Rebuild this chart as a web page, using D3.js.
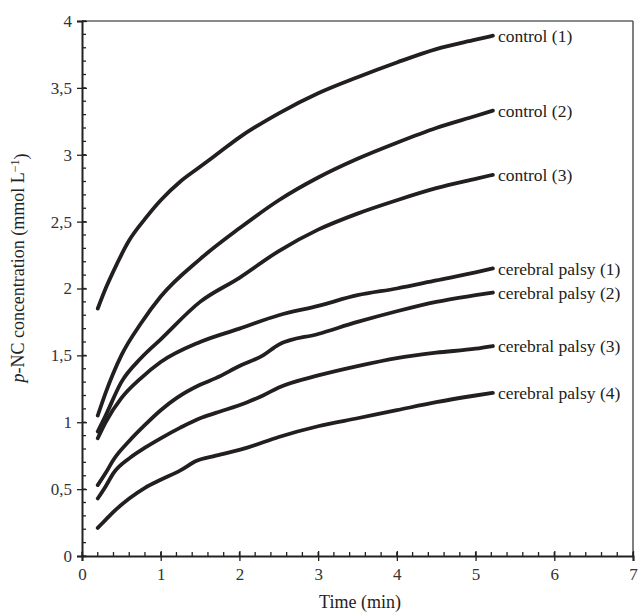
<!DOCTYPE html>
<html>
<head>
<meta charset="utf-8">
<script src="https://cdn.jsdelivr.net/npm/d3@7"></script>
<style>
  body { margin: 0; background: #fff; }
  svg { font-family: "Liberation Serif", "DejaVu Serif", serif; }
</style>
</head>
<body>
<svg id="chart" width="639" height="615"></svg>
<script>
// time points (min) and p-NC concentrations
var control1 = [[0.2,1.85],[0.3,2.0],[0.4,2.13],[0.6,2.36],[0.8,2.52],[1.0,2.66],[1.25,2.8],[1.5,2.91],[1.75,3.02],[2.0,3.13],[2.5,3.31],[3.0,3.46],[3.5,3.58],[4.0,3.69],[4.5,3.79],[5.0,3.86],[5.22,3.89]];
var control2 = [[0.2,1.05],[0.3,1.22],[0.5,1.5],[0.75,1.74],[1.0,1.94],[1.5,2.22],[2.0,2.45],[2.5,2.66],[3.0,2.83],[3.5,2.97],[4.0,3.09],[4.5,3.2],[5.0,3.29],[5.22,3.33]];
var control3 = [[0.2,0.93],[0.3,1.05],[0.5,1.3],[0.75,1.48],[1.0,1.62],[1.5,1.9],[2.0,2.08],[2.5,2.28],[3.0,2.44],[3.5,2.56],[4.0,2.66],[4.5,2.75],[5.0,2.82],[5.22,2.85]];
var palsy1 = [[0.2,0.88],[0.3,1.0],[0.5,1.18],[0.75,1.33],[1.0,1.45],[1.5,1.6],[2.0,1.7],[2.5,1.8],[3.0,1.87],[3.5,1.95],[4.0,2.0],[4.5,2.06],[5.0,2.12],[5.22,2.15]];
var palsy2 = [[0.2,0.53],[0.3,0.62],[0.4,0.72],[0.6,0.86],[0.8,0.98],[1.0,1.09],[1.2,1.18],[1.5,1.28],[1.7,1.33],[2.0,1.42],[2.3,1.5],[2.5,1.58],[3.0,1.66],[3.5,1.75],[4.0,1.83],[4.5,1.9],[5.0,1.95],[5.22,1.97]];
var palsy3 = [[0.2,0.43],[0.3,0.52],[0.4,0.62],[0.6,0.73],[0.8,0.81],[1.0,0.88],[1.25,0.96],[1.5,1.03],[1.7,1.07],[2.1,1.15],[2.3,1.2],[2.5,1.26],[3.0,1.35],[3.5,1.42],[4.0,1.48],[4.5,1.52],[5.0,1.55],[5.22,1.57]];
var palsy4 = [[0.2,0.21],[0.3,0.27],[0.4,0.33],[0.6,0.43],[0.8,0.51],[1.0,0.57],[1.25,0.64],[1.45,0.71],[1.7,0.75],[2.1,0.81],[2.5,0.89],[3.0,0.97],[3.5,1.03],[4.0,1.09],[4.5,1.15],[5.0,1.2],[5.22,1.22]];

var seriesNames = ["control (1)", "control (2)", "control (3)", "cerebral palsy (1)", "cerebral palsy (2)", "cerebral palsy (3)", "cerebral palsy (4)"];
var seriesData = [control1, control2, control3, palsy1, palsy2, palsy3, palsy4];

var xTicks = [0, 1, 2, 3, 4, 5, 6, 7];
var yTicks = [0, 0.5, 1, 1.5, 2, 2.5, 3, 3.5, 4];

var dimensions = {
  width: 639,
  height: 615,
  margin: { top: 21, right: 6, bottom: 59, left: 82 },
};

var svg = d3.select("#chart");

var xScale = d3
  .scaleLinear()
  .domain([0, 7])
  .range([dimensions.margin.left, dimensions.width - dimensions.margin.right]);

var yScale = d3
  .scaleLinear()
  .domain([0, 4])
  .range([dimensions.height - dimensions.margin.bottom, dimensions.margin.top]);

var x0 = xScale(0), x1 = xScale(7), y0 = yScale(0), y1 = yScale(4);

// frame: grey top and right
svg.append("line").attr("x1", x0).attr("x2", x1).attr("y1", y1).attr("y2", y1)
  .attr("stroke", "#8a8a8a").attr("stroke-width", 2);
svg.append("line").attr("x1", x1).attr("x2", x1).attr("y1", y1).attr("y2", y0)
  .attr("stroke", "#555").attr("stroke-width", 1.5);

// minor ticks (inside)
var xMinor = d3.range(0, 7.001, 0.2);
svg.append("g").selectAll("line").data(xMinor).enter().append("line")
  .attr("x1", (d) => xScale(d)).attr("x2", (d) => xScale(d))
  .attr("y1", y0).attr("y2", y0 - 4)
  .attr("stroke", "#222").attr("stroke-width", 1.3);
var yMinor = d3.range(0, 4.001, 0.1);
svg.append("g").selectAll("line").data(yMinor).enter().append("line")
  .attr("x1", x0).attr("x2", x0 + 4)
  .attr("y1", (d) => yScale(d)).attr("y2", (d) => yScale(d))
  .attr("stroke", "#222").attr("stroke-width", 1.3);

// axes with crossing major ticks
var xAxisgen = d3.axisBottom(xScale).tickValues(xTicks).tickSize(5).tickPadding(7)
  .tickFormat((d) => d);
var xAxis = svg.append("g")
  .attr("transform", `translate(0,${y0})`)
  .call(xAxisgen);

var yAxisgen = d3.axisLeft(yScale).tickValues(yTicks).tickSize(5).tickPadding(5)
  .tickFormat((d) => String(d).replace(".", ","));
var yAxis = svg.append("g")
  .attr("transform", `translate(${x0},0)`)
  .call(yAxisgen);

[xAxis, yAxis].forEach(function (g) {
  g.select(".domain").attr("stroke", "#222").attr("stroke-width", 2);
  g.selectAll(".tick line").attr("stroke", "#222").attr("stroke-width", 1.3);
  g.selectAll(".tick text").attr("fill", "#333").style("font-size", "17px")
    .style("font-family", "Liberation Serif, serif");
});
xAxis.selectAll(".tick line").attr("y1", -5);
yAxis.selectAll(".tick line").attr("x1", 5);

// curves
var line = d3.line()
  .x((d) => xScale(d[0]))
  .y((d) => yScale(d[1]))
  .curve(d3.curveMonotoneX);

svg.append("g").selectAll("path").data(seriesData).enter().append("path")
  .attr("d", (d) => line(d))
  .attr("fill", "none")
  .attr("stroke", "#231f20")
  .attr("stroke-width", 3.8)
  .attr("stroke-linecap", "round");

// curve labels
svg.append("g").selectAll("text").data(seriesData).enter().append("text")
  .attr("x", (d) => xScale(d[d.length - 1][0]) + 5)
  .attr("y", (d) => yScale(d[d.length - 1][1]))
  .attr("dy", "0.35em")
  .style("font-size", "17.5px")
  .attr("fill", "#222")
  .text((d, i) => seriesNames[i]);

// axis titles
svg.append("text")
  .attr("x", 360)
  .attr("y", 608)
  .attr("text-anchor", "middle")
  .style("font-size", "18px")
  .attr("fill", "#222")
  .text("Time (min)");

var yTitle = svg.append("text")
  .attr("transform", "translate(24,268) rotate(-90)")
  .attr("text-anchor", "middle")
  .style("font-size", "18px")
  .attr("fill", "#222");
yTitle.append("tspan").style("font-style", "italic").text("p");
yTitle.append("tspan").text("-NC concentration (mmol L");
yTitle.append("tspan").attr("dy", "-0.45em").style("font-size", "12px").text("\u22121");
yTitle.append("tspan").attr("dy", "0.45em").text(")");
</script>
</body>
</html>
